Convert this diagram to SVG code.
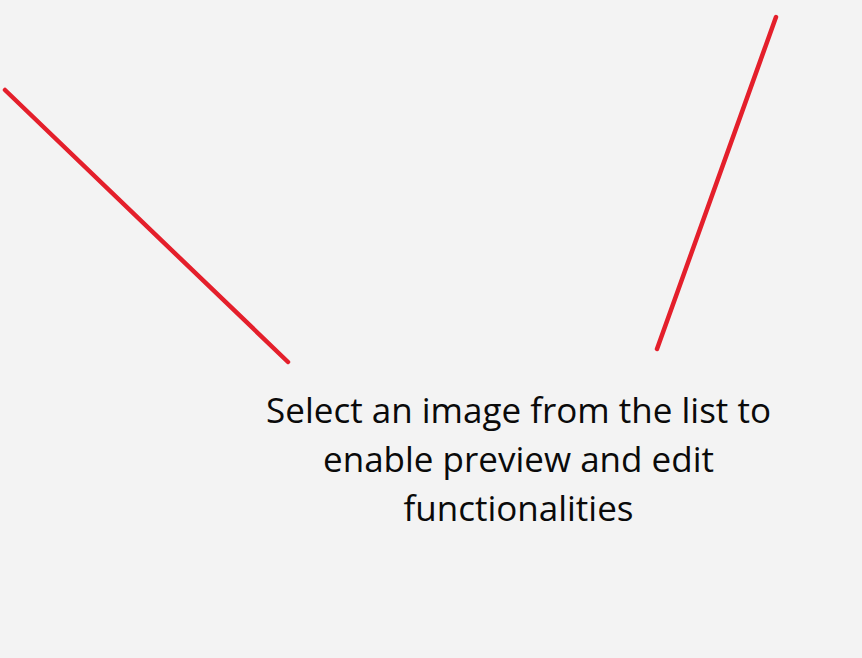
<svg xmlns="http://www.w3.org/2000/svg" width="862" height="658" viewBox="0 0 862 658">
<style>
.ln{stroke:#e41f2b;stroke-width:4.5;stroke-linecap:round;fill:none}
.t{font-family:"Open Sans","Noto Sans","Liberation Sans",sans-serif;font-size:35px;fill:#0a0a0a;text-anchor:middle}
</style>
<rect width="862" height="658" fill="#f3f3f3"/>
<g id="connectors">
<line class="ln" x1="5" y1="90" x2="288" y2="362"/>
<line class="ln" x1="776" y1="17" x2="657" y2="349"/>
</g>
<g id="message">
<text class="t" x="518.5" y="423">Select an image from the list to</text>
<text class="t" x="518.5" y="472">enable preview and edit</text>
<text class="t" x="518.5" y="521">functionalities</text>
</g>
</svg>
